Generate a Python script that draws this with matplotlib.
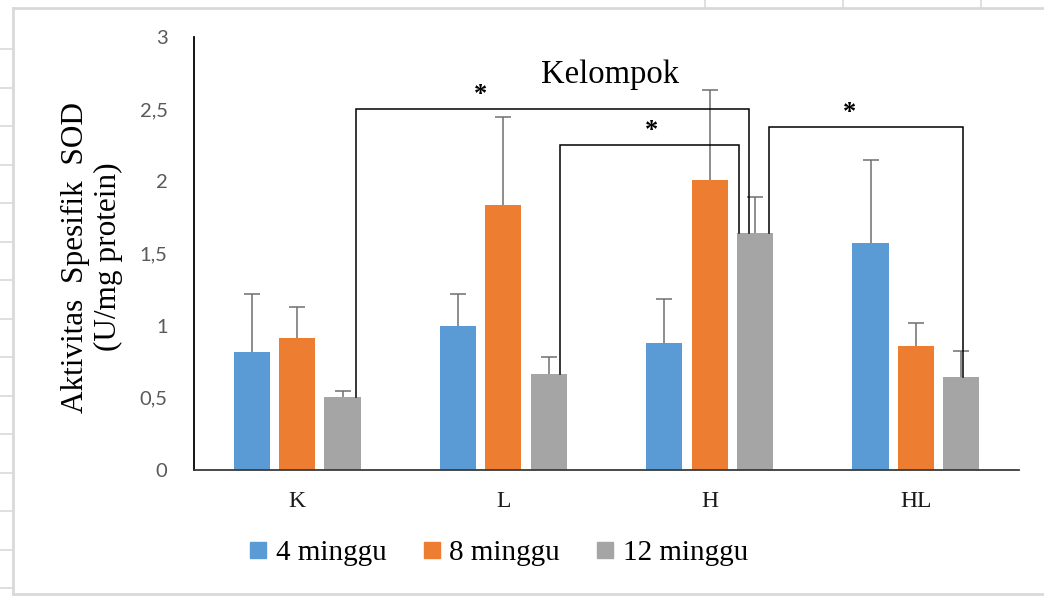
import matplotlib
matplotlib.use("Agg")
import matplotlib.pyplot as plt
from matplotlib.lines import Line2D
import numpy as np

# ---- data ----
groups = ["K", "L", "H", "HL"]
series_names = ["4 minggu", "8 minggu", "12 minggu"]
vals_4 = [0.816, 1.000, 0.878, 1.573]
vals_8 = [0.913, 1.836, 2.010, 0.861]
vals_12 = [0.506, 0.665, 1.642, 0.647]
err_4 = [0.406, 0.222, 0.307, 0.575]
err_8 = [0.219, 0.610, 0.625, 0.158]
err_12 = [0.041, 0.120, 0.248, 0.178]
yticks = [0, 0.5, 1, 1.5, 2, 2.5, 3]
ytick_labels = ["0", "0,5", "1", "1,5", "2", "2,5", "3"]
# significance brackets between 12-minggu bars: (from group, to group, level)
brackets = [(0, 2, 2.5), (1, 2, 2.25), (2, 3, 2.375)]
bracket_offsets = [(0.065, -0.03), (0.055, -0.08), (0.066, 0.01)]
star_x = [0.89, 1.72, 2.676]

colors = ["#5B9BD5", "#ED7D31", "#A5A5A5"]
SERIF = "Liberation Serif"

W, H = 1044, 596
fig = plt.figure(figsize=(W / 100, H / 100), dpi=100)
fig.patch.set_facecolor("white")

ax = fig.add_axes([194 / W, 1 - 470 / H, 825 / W, 433 / H])

x = np.arange(len(groups))
width = 0.175
offsets = [-0.22, 0.0, 0.22]
all_vals = [vals_4, vals_8, vals_12]
all_errs = [err_4, err_8, err_12]
for vals, errs, off, c in zip(all_vals, all_errs, offsets, colors):
    ax.bar(x + off, vals, width, color=c, zorder=2)
    eb = ax.errorbar(x + off, vals, yerr=[np.zeros(len(vals)), errs], fmt="none",
                     ecolor="#6f6f6f", elinewidth=1.1, capsize=5.5, capthick=1.1, zorder=3)
    caps = eb.lines[1]
    if len(caps) == 2:
        caps[0].set_visible(False)

# significance brackets
for (g0, g1, lvl), (o0, o1), sx in zip(brackets, bracket_offsets, star_x):
    xa = g0 + offsets[2] + o0
    xb = g1 + offsets[2] + o1
    ax.plot([xa, xa, xb, xb], [vals_12[g0], lvl, lvl, vals_12[g1]],
            color="black", lw=1.1, zorder=4, solid_joinstyle="miter")
    ax.text(sx, lvl + 0.02, "*", ha="center", va="bottom", fontsize=19,
            family=SERIF, fontweight="bold", color="black")

ax.set_xlim(-0.5, 3.5)
ax.set_ylim(0, 3)
ax.set_xticks(x)
ax.set_xticklabels(groups, family=SERIF, fontsize=17, color="#1a1a1a")
ax.set_yticks(yticks)
ax.set_yticklabels(ytick_labels, family="Lato", fontsize=14.5, color="#595959")
ax.tick_params(axis="both", length=0)
ax.tick_params(axis="y", pad=19)
ax.tick_params(axis="x", pad=15)
for s in ["top", "right"]:
    ax.spines[s].set_visible(False)
ax.spines["left"].set_color("black")
ax.spines["left"].set_linewidth(1.3)
ax.spines["bottom"].set_color("#3a3a3a")
ax.spines["bottom"].set_linewidth(1.3)

ax.text(0.504, 0.912, "Kelompok", transform=ax.transAxes, ha="center", va="center",
        family=SERIF, fontsize=23.5, color="black")

fig.text(92 / W, 1 - 257 / H, "Aktivitas  Spesifik  SOD\n(U/mg protein)", rotation=90,
         ha="center", va="center", multialignment="center", family=SERIF,
         fontsize=22.5, linespacing=1.2, color="black")

handles = [Line2D([], [], marker="s", ls="", color=c, markersize=11) for c in colors]
fig.legend(handles, series_names, loc="center", bbox_to_anchor=(498 / W, 1 - 553 / H),
           ncol=3, frameon=False, prop={"family": SERIF, "size": 21},
           handlelength=0.7, handletextpad=0.25, columnspacing=1.2, borderaxespad=0)

# spreadsheet-like frame decorations
grey = "#d9d9d9"
def fl(xs, ys, lw=2):
    fig.add_artist(Line2D([v / W for v in xs], [1 - v / H for v in ys],
                          transform=fig.transFigure, color=grey, lw=lw))
fl([13, W], [8, 8])
fl([13, 13], [8, 594])
fl([13, W], [594, 594])
for xv in [705, 843, 981]:
    fl([xv, xv], [0, 8], lw=1.2)
for k in range(15):
    yv = 49 + 38.5 * k
    fl([0, 13], [yv, yv], lw=1.2)

fig.savefig("out.png", dpi=100)
